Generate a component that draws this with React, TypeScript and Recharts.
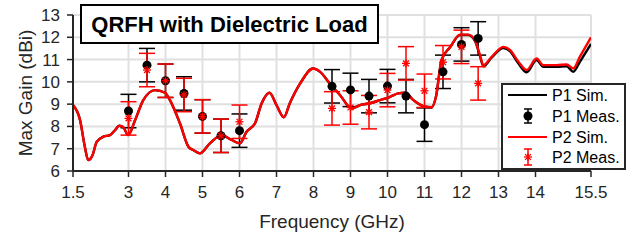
import { ComposedChart, Line, Scatter, ErrorBar, XAxis, YAxis, CartesianGrid } from "recharts";

// simulated gain, sampled off the curves (GHz / dBi)
const simFreq = [1.5, 1.69, 1.82, 1.91, 2.03, 2.14, 2.32, 2.5, 2.64, 2.75, 2.86, 2.99, 3.18, 3.4, 3.72, 3.99, 4.12, 4.39, 4.62, 4.75, 4.93, 5.2, 5.52, 5.79, 6.01, 6.19, 6.42, 6.6, 6.81, 7.0, 7.2, 7.36, 7.64, 7.99, 8.18, 8.45, 8.72, 9.03, 9.26, 9.53, 9.8, 10.07, 10.29, 10.47, 10.7, 10.97, 11.19, 11.31, 11.46, 11.69, 11.96, 12.18, 12.36, 12.5, 12.59, 12.82, 13.13, 13.31, 13.54, 13.76, 14.03, 14.21, 14.57, 14.84, 15.02, 15.2, 15.5];
const p1Sim = [8.96, 8.29, 7.09, 6.49, 6.72, 7.31, 7.54, 7.61, 7.84, 8.03, 7.96, 7.61, 8.29, 9.18, 9.63, 9.51, 9.18, 8.14, 7.09, 6.94, 6.79, 7.24, 7.61, 7.39, 7.24, 7.76, 8.14, 9.04, 9.51, 8.96, 8.41, 9.04, 9.93, 10.6, 10.45, 9.9, 9.4, 8.81, 8.96, 9.04, 9.18, 9.33, 9.48, 9.51, 9.18, 8.91, 8.86, 9.33, 10.98, 11.55, 12.1, 12.1, 11.85, 11.15, 10.7, 11.1, 11.52, 11.38, 10.82, 10.43, 10.98, 10.68, 10.68, 10.7, 10.45, 10.9, 11.7];
const p2Sim = [8.96, 8.29, 7.09, 6.49, 6.72, 7.31, 7.54, 7.61, 7.84, 8.03, 7.96, 7.61, 8.29, 9.18, 9.63, 9.51, 9.18, 8.14, 7.09, 6.94, 6.79, 7.24, 7.61, 7.39, 7.24, 7.76, 8.14, 9.04, 9.51, 8.96, 8.41, 9.04, 9.93, 10.6, 10.45, 9.9, 9.4, 8.81, 8.96, 9.04, 9.18, 9.33, 9.48, 9.51, 9.18, 8.91, 8.86, 9.33, 10.98, 11.55, 12.12, 12.12, 11.87, 11.2, 10.75, 11.13, 11.57, 11.43, 10.9, 10.53, 11.05, 10.75, 10.75, 10.78, 10.6, 11.13, 12.0];

// measured points
const measFreq = [3, 3.5, 4, 4.5, 5, 5.5, 6, 8.5, 9, 9.5, 10, 10.5, 11, 11.5, 12, 12.45];
const p1Meas = [8.69, 10.75, 10.05, 9.48, 8.45, 7.58, 7.81, 9.8, 9.64, 9.36, 9.81, 9.36, 8.08, 10.45, 11.68, 11.95];
const p2Meas = [8.36, 10.53, 10.05, 9.41, 8.45, 7.58, 8.21, 8.81, 8.85, 8.64, 9.63, 10.83, 9.6, 10.88, 11.57, 9.93];
const p1Err = [0.75, 0.75, 0.75, 0.75, 0.75, 0.75, 0.75, 0.75, 0.75, 0.75, 0.75, 0.75, 0.75, 0.75, 0.75, 0.75];
const p2Err = [0.75, 0.75, 0.75, 0.75, 0.75, 0.75, 0.75, 0.75, 0.75, 0.75, 0.75, 0.75, 0.75, 0.75, 0.75, 0.75];

const xTicks = [1.5, 3, 4, 5, 6, 7, 8, 9, 10, 11, 12, 13, 14, 15.5];
const yTicks = [6, 7, 8, 9, 10, 11, 12, 13];
const xDomain = [1.5, 15.5];
const yDomain = [6, 13];

const FONT = '"Liberation Sans", Arial, Helvetica, sans-serif';
const AXIS = "#262626";

const p1SimData = simFreq.map((f, i) => ({ f, v: p1Sim[i] }));
const p2SimData = simFreq.map((f, i) => ({ f, v: p2Sim[i] }));
const p1MeasData = measFreq.map((f, i) => ({ f, v: p1Meas[i], err: p1Err[i] }));
const p2MeasData = measFreq.map((f, i) => ({ f, v: p2Meas[i], err: p2Err[i] }));

// grid lines at every labelled tick (same linear mapping as the axes)
const vGrid = ({ offset }: any) =>
  xTicks.map((t) => offset.left + ((t - xDomain[0]) / (xDomain[1] - xDomain[0])) * offset.width);
const hGrid = ({ offset }: any) =>
  yTicks.map((t) => offset.top + offset.height - ((t - yDomain[0]) / (yDomain[1] - yDomain[0])) * offset.height);

const Dot = (p: any) => <circle cx={p.cx} cy={p.cy} r={4.5} fill="#000" />;

const Star = (p: any) => {
  const { cx, cy } = p;
  const s = 4, d = 2.9;
  return (
    <g stroke="#ff0000" strokeWidth={1.3}>
      <line x1={cx - s} y1={cy} x2={cx + s} y2={cy} />
      <line x1={cx} y1={cy - s} x2={cx} y2={cy + s} />
      <line x1={cx - d} y1={cy - d} x2={cx + d} y2={cy + d} />
      <line x1={cx - d} y1={cy + d} x2={cx + d} y2={cy - d} />
    </g>
  );
};

function Overlay() {
  const lx = 508, tx = 552, mx = 528;
  const rows = [95, 116, 137, 157];
  return (
    <svg width={644} height={240} style={{ position: "absolute", left: 0, top: 0, pointerEvents: "none" }} fontFamily={FONT}>
      {/* title */}
      <rect x={81} y={5} width={297} height={38} fill="#fff" stroke="#000" strokeWidth={2} />
      <text x={229.5} y={32} textAnchor="middle" fontSize={22} fontWeight="bold" fill="#000">QRFH with Dielectric Load</text>

      {/* axis titles */}
      <text x={332} y={228} textAnchor="middle" fontSize={19} fill={AXIS}>Frequency (GHz)</text>
      <text transform="translate(32,93) rotate(-90)" textAnchor="middle" fontSize={19} fill={AXIS}>Max Gain (dBi)</text>

      {/* legend */}
      <rect x={502} y={84} width={123} height={85} fill="#fff" stroke={AXIS} strokeWidth={2} />
      <line x1={lx} y1={rows[0]} x2={547} y2={rows[0]} stroke="#000" strokeWidth={2} />
      <g stroke="#000" strokeWidth={1.5}>
        <line x1={mx} y1={rows[1] - 7} x2={mx} y2={rows[1] + 7} />
        <line x1={mx - 4} y1={rows[1] - 7} x2={mx + 4} y2={rows[1] - 7} />
        <line x1={mx - 4} y1={rows[1] + 7} x2={mx + 4} y2={rows[1] + 7} />
      </g>
      <Dot cx={mx} cy={rows[1]} />
      <line x1={lx} y1={rows[2]} x2={547} y2={rows[2]} stroke="#ff0000" strokeWidth={2} />
      <g stroke="#ff0000" strokeWidth={1.5}>
        <line x1={mx} y1={rows[3] - 8} x2={mx} y2={rows[3] + 8} />
        <line x1={mx - 4} y1={rows[3] - 8} x2={mx + 4} y2={rows[3] - 8} />
        <line x1={mx - 4} y1={rows[3] + 8} x2={mx + 4} y2={rows[3] + 8} />
      </g>
      <Star cx={mx} cy={rows[3]} />
      {["P1 Sim.", "P1 Meas.", "P2 Sim.", "P2 Meas."].map((t, i) => (
        <text key={t} x={tx} y={rows[i] + 5.5} fontSize={16} fill="#000">{t}</text>
      ))}
    </svg>
  );
}

export default function App() {
  const tick = { fontSize: 17, fill: AXIS, fontFamily: FONT };
  const line = { stroke: AXIS, strokeWidth: 2 };
  const tl = { stroke: AXIS, strokeWidth: 1.5 };
  return (
    <div style={{ position: "absolute", left: 0, top: 0, width: 644, height: 240, background: "#fff" }}>
      <ComposedChart width={644} height={240} margin={{ top: 15, right: 53, bottom: 39, left: 13 }}>
        <CartesianGrid stroke="#e0e0e0" strokeWidth={2}
          verticalCoordinatesGenerator={vGrid} horizontalCoordinatesGenerator={hGrid} />
        <XAxis dataKey="f" type="number" domain={xDomain} ticks={xTicks} allowDataOverflow interval={0}
          height={30} tick={tick} tickSize={6} tickMargin={9} axisLine={line} tickLine={tl} />
        <XAxis xAxisId="top" orientation="top" dataKey="f" type="number" domain={xDomain} ticks={xTicks} interval={0}
          height={0} tick={false} tickSize={6} axisLine={line} tickLine={tl} />
        <YAxis type="number" domain={yDomain} ticks={yTicks} allowDataOverflow width={60} interval={0}
          tick={tick} tickSize={6} tickMargin={7} axisLine={line} tickLine={tl} />
        <YAxis yAxisId="right" orientation="right" type="number" domain={yDomain} ticks={yTicks} width={0} interval={0}
          tick={false} tickSize={6} axisLine={line} tickLine={tl} />

        <Line data={p1SimData} dataKey="v" type="monotone" stroke="#000" strokeWidth={2.4} dot={false} isAnimationActive={false} />
        <Scatter data={p1MeasData} dataKey="v" shape={Dot} isAnimationActive={false}>
          <ErrorBar dataKey="err" direction="y" width={8} stroke="#000" strokeWidth={1.5} isAnimationActive={false} />
        </Scatter>
        <Line data={p2SimData} dataKey="v" type="monotone" stroke="#ff0000" strokeWidth={2.4} dot={false} isAnimationActive={false} />
        <Scatter data={p2MeasData} dataKey="v" shape={Star} isAnimationActive={false}>
          <ErrorBar dataKey="err" direction="y" width={8} stroke="#ff0000" strokeWidth={1.5} isAnimationActive={false} />
        </Scatter>
      </ComposedChart>
      <Overlay />
    </div>
  );
}
